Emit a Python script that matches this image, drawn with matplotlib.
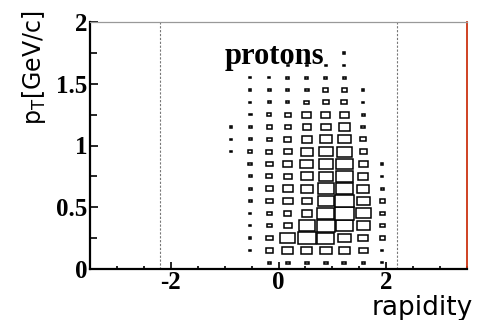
import numpy as np
import matplotlib
matplotlib.use("Agg")
import matplotlib.pyplot as plt
from matplotlib.patches import Rectangle
from matplotlib.ticker import MultipleLocator


# binning of the 2D histogram
rapidity_edges = np.linspace(-3.5, 3.5, 21)
pt_edges = np.linspace(0.0, 2.0, 21)

# rapidity bins that have entries (bin index 7..15)
first_col = 7

# counts per cell, rows = pt bins from 0 upward, columns = rapidity bins 7..15
counts = [
    [0, 0, 9, 16, 16, 16, 16, 9, 4],
    [0, 4, 49, 121, 121, 144, 100, 81, 4],
    [0, 4, 49, 225, 324, 289, 169, 100, 25],
    [0, 4, 25, 64, 256, 324, 289, 169, 25],
    [0, 4, 25, 49, 100, 289, 350, 225, 25],
    [0, 9, 49, 100, 100, 256, 324, 169, 25],
    [0, 9, 49, 100, 144, 256, 289, 144, 9],
    [0, 9, 36, 64, 144, 196, 256, 100, 4],
    [0, 16, 49, 81, 169, 196, 256, 81, 4],
    [4, 16, 36, 64, 144, 196, 225, 49, 0],
    [4, 9, 25, 49, 100, 144, 144, 36, 0],
    [4, 9, 25, 36, 64, 100, 121, 16, 0],
    [0, 7, 16, 36, 81, 81, 81, 9, 0],
    [0, 4, 9, 9, 25, 36, 36, 4, 0],
    [0, 4, 9, 9, 16, 25, 25, 4, 0],
    [0, 4, 4, 9, 9, 9, 9, 0, 0],
    [0, 0, 0, 4, 4, 4, 4, 0, 0],
    [0, 0, 0, 0, 0, 0, 4, 0, 0],
]

acceptance = [-2.2, 2.2]

xticks = [-2, 0, 2]
yticks = [0, 0.5, 1, 1.5, 2]
ytick_labels = ["0", "0.5", "1", "1.5", "2"]

plt.rcParams["axes.unicode_minus"] = False

fig = plt.figure(figsize=(4.81, 3.2), dpi=100)
ax = fig.add_axes([90 / 481, 51 / 320, 377 / 481, 247 / 320])

cmax = max(max(r) for r in counts)
for j, row in enumerate(counts):
    y0, y1 = pt_edges[j], pt_edges[j + 1]
    for i, c in enumerate(row):
        if c <= 0:
            continue
        k = first_col + i
        x0, x1 = rapidity_edges[k], rapidity_edges[k + 1]
        f = np.sqrt(c / cmax)
        w = (x1 - x0) * f
        h = (y1 - y0) * f
        ax.add_patch(Rectangle(
            ((x0 + x1) / 2 - w / 2, (y0 + y1) / 2 - h / 2), w, h,
            facecolor="white", edgecolor="black", linewidth=1.1
        ))

for xa in acceptance:
    ax.axvline(xa, color="#777777", linewidth=0.8, linestyle=(0, (2, 1.5)))

ax.set_xlim(-3.5, 3.5)
ax.set_ylim(0, 2)

ax.set_xticks(xticks)
ax.set_xticklabels([str(v) for v in xticks])
ax.set_yticks(yticks)
ax.set_yticklabels(ytick_labels)
ax.xaxis.set_minor_locator(MultipleLocator(0.5))
ax.yaxis.set_minor_locator(MultipleLocator(0.25))

ax.tick_params(which="both", direction="in", top=False, right=False,
               width=1.2, color="black")
ax.tick_params(axis="x", which="major", length=5, pad=1.5)
ax.tick_params(axis="x", which="minor", length=2.5)
ax.tick_params(axis="y", which="major", length=6, pad=2)
ax.tick_params(axis="y", which="minor", length=5)

for lab in ax.get_xticklabels() + ax.get_yticklabels():
    lab.set_fontfamily("Liberation Serif")
    lab.set_fontweight("bold")
    lab.set_fontsize(18)

ax.spines["left"].set_linewidth(1.6)
ax.spines["bottom"].set_linewidth(1.6)
ax.spines["top"].set_color("#999999")
ax.spines["top"].set_linewidth(0.9)
ax.spines["right"].set_color("#cc3311")
ax.spines["right"].set_linewidth(1.3)

ax.text(-1.0, 1.66, "protons", fontfamily="Liberation Serif",
        fontweight="bold", fontsize=22, ha="left", va="baseline")

fig.text(473 / 481, -1 / 320, "rapidity", fontfamily="DejaVu Sans",
         fontsize=19, ha="right", va="bottom")
fig.text(34 / 481, 1 - 11 / 320, r"p$_{\mathrm{T}}$[GeV/c]",
         fontfamily="DejaVu Sans", fontsize=17, rotation=90,
         ha="center", va="top")

fig.savefig("out.png", dpi=100)
plt.close(fig)
